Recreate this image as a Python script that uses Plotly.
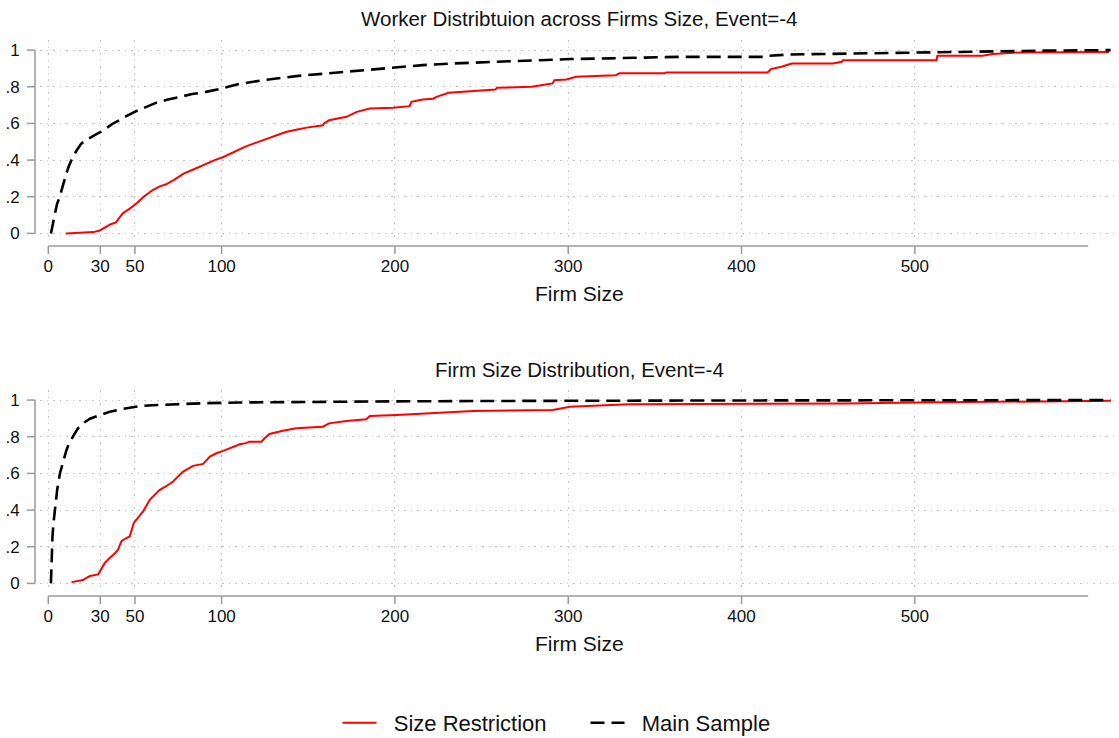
import plotly.graph_objects as go

# ---- data: cumulative shares by firm size ----
worker_main_x = [1.5, 2.5, 3.8, 5, 6.6, 8.5, 10.5, 12, 14, 16.5,
                 19, 22, 25, 28, 31, 33.6, 37, 41, 45, 51,
                 56, 62, 69, 76, 83, 91, 100, 110, 124, 143,
                 162, 181, 201, 216, 233, 258, 281, 301, 324, 347,
                 364, 414, 416, 428, 456, 512, 539, 575, 613]
worker_main_y = [0, 0.05, 0.11, 0.16, 0.20, 0.27, 0.33, 0.37, 0.415, 0.455,
                 0.49, 0.51, 0.528, 0.543, 0.557, 0.575, 0.597, 0.617, 0.64, 0.668,
                 0.69, 0.712, 0.73, 0.745, 0.76, 0.772, 0.79, 0.815, 0.836, 0.858,
                 0.873, 0.89, 0.903, 0.918, 0.927, 0.936, 0.942, 0.951, 0.955, 0.958,
                 0.963, 0.963, 0.969, 0.976, 0.98, 0.99, 0.994, 0.997, 1.0]

worker_restr_x = [10, 20, 26, 29.7, 33, 36, 39, 43, 47, 51,
                  55, 60, 64, 68, 73, 78, 84, 91, 96, 101,
                  104.6, 110.5, 114, 120, 126, 131, 137, 143, 149, 158.5,
                  159, 162, 167, 172, 178, 185.5, 199, 208.5, 209.5, 216,
                  222, 224, 231, 245, 258, 259, 279, 287, 291, 292,
                  299, 304.5, 327.5, 329.5, 355.5, 356.5, 415, 417, 423, 429,
                  452.7, 457.8, 458.5, 512.5, 513, 539, 545, 560.6, 612]
worker_restr_y = [0, 0.002, 0.007, 0.016, 0.035, 0.05, 0.06, 0.11, 0.135, 0.164,
                  0.2, 0.235, 0.255, 0.268, 0.295, 0.326, 0.35, 0.381, 0.4, 0.417,
                  0.432, 0.457, 0.475, 0.495, 0.517, 0.535, 0.553, 0.565, 0.577, 0.59,
                  0.6, 0.617, 0.625, 0.636, 0.663, 0.681, 0.685, 0.694, 0.718, 0.731,
                  0.735, 0.745, 0.767, 0.777, 0.785, 0.794, 0.8, 0.812, 0.818, 0.836,
                  0.84, 0.854, 0.863, 0.873, 0.873, 0.878, 0.878, 0.896, 0.909, 0.927,
                  0.927, 0.936, 0.945, 0.945, 0.969, 0.969, 0.978, 0.987, 0.99]

firm_main_x = [1.5, 1.7, 1.9, 2.4, 3, 3.7, 4.4, 5.1, 6.7, 8.2,
               10.5, 12, 14, 17, 20, 24, 29.7, 35, 41.4, 52.8,
               60, 72, 90, 110.5, 150, 200, 250, 300, 400, 500, 613]
firm_main_y = [0, 0.06, 0.13, 0.257, 0.33, 0.40, 0.45, 0.51, 0.60, 0.656,
               0.728, 0.765, 0.80, 0.845, 0.873, 0.898, 0.918, 0.935, 0.949, 0.967,
               0.972, 0.978, 0.983, 0.987, 0.991, 0.993, 0.995, 0.997, 0.998, 0.999, 1.0]

firm_restr_x = [13.4, 20, 22, 24, 28.7, 30.5, 32.6, 35.5, 38, 40.3,
                42.2, 44.5, 47, 49.3, 52, 54.7, 58.6, 61, 64.3, 68,
                72, 75, 77.8, 83.5, 89.3, 93.2, 97, 100.9, 104.6, 110.5,
                114, 116, 123, 124.8, 127.6, 135.4, 143, 158.5, 162, 172,
                183.5, 185.5, 201, 220, 245, 291, 301, 335, 400, 460, 502, 613]
firm_restr_y = [0.007, 0.018, 0.03, 0.04, 0.049, 0.08, 0.112, 0.14, 0.16, 0.185,
                0.23, 0.245, 0.257, 0.33, 0.36, 0.393, 0.457, 0.48, 0.51, 0.53,
                0.556, 0.585, 0.61, 0.641, 0.652, 0.692, 0.71, 0.723, 0.737, 0.759,
                0.765, 0.773, 0.773, 0.792, 0.815, 0.833, 0.846, 0.855, 0.873, 0.886,
                0.895, 0.913, 0.918, 0.928, 0.94, 0.946, 0.964, 0.977, 0.978, 0.982,
                0.987, 0.996]

x_ticks = [0, 30, 50, 100, 200, 300, 400, 500]
y_ticks = [0, 0.2, 0.4, 0.6, 0.8, 1]
y_tick_text = ["0", ".2", ".4", ".6", ".8", "1"]

panel_titles = ["Worker Distribtuion across Firms Size, Event=-4",
                "Firm Size Distribution, Event=-4"]
x_title = "Firm Size"
series_names = ["Size Restriction", "Main Sample"]

# ---- layout geometry (pixels) ----
W, H = 1119, 738
FONT = "Arial, Liberation Sans, Helvetica, sans-serif"
TXT = "#111111"
AXIS_GRAY = "#9a9a9a"
GRID_GRAY = "#c4c4c4"
NBSP = "\u00a0"

plot_left = 40
# (top px, bottom px, title centre px) for each plotting region
panels = [
    (40, 240, 18),
    (390, 590, 370),
]

def py(p):
    return 1 - p / H

def px(p):
    return p / W

fig = go.Figure()

panel_data = [
    (worker_restr_x, worker_restr_y, worker_main_x, worker_main_y),
    (firm_restr_x, firm_restr_y, firm_main_x, firm_main_y),
]

for i, (rx, ry, mx, my) in enumerate(panel_data):
    xa = "x" if i == 0 else "x2"
    ya = "y" if i == 0 else "y2"
    fig.add_trace(go.Scatter(
        x=rx, y=ry, mode="lines", name=NBSP * 2 + series_names[0], legendgroup="r",
        showlegend=(i == 0), line=dict(color="#ff0000", width=2),
        xaxis=xa, yaxis=ya, hoverinfo="skip"))
    fig.add_trace(go.Scatter(
        x=mx, y=my, mode="lines", name=NBSP * 2 + series_names[1], legendgroup="m",
        showlegend=(i == 0), line=dict(color="#000000", width=2.6, dash="14px,7px"),
        xaxis=xa, yaxis=ya, hoverinfo="skip"))

x_range = [-4.8, 617.8]
y_range = [-0.036, 1.055]

axis_common_x = dict(
    range=x_range, tickmode="array", tickvals=x_ticks,
    ticktext=[str(v) for v in x_ticks],
    showgrid=True, gridcolor=GRID_GRAY, gridwidth=1, griddash="1.5px,5px",
    zeroline=False, showline=False,
    ticks="outside", ticklen=11, tickcolor="rgba(0,0,0,0)",
    tickfont=dict(family=FONT, size=17, color=TXT),
    fixedrange=True,
)
axis_common_y = dict(
    range=y_range, tickmode="array", tickvals=y_ticks, ticktext=y_tick_text,
    showgrid=True, gridcolor=GRID_GRAY, gridwidth=1, griddash="1.5px,5px",
    zeroline=False, showline=False,
    ticks="outside", ticklen=16, tickcolor="rgba(0,0,0,0)",
    tickfont=dict(family=FONT, size=17, color=TXT),
    fixedrange=True,
)

layout = dict(
    width=W, height=H,
    margin=dict(l=0, r=0, t=0, b=0, autoexpand=False),
    paper_bgcolor="white", plot_bgcolor="white",
    font=dict(family=FONT, color=TXT),
    xaxis=dict(axis_common_x, domain=[px(plot_left), 1], anchor="y"),
    yaxis=dict(axis_common_y, domain=[py(panels[0][1]), py(panels[0][0])], anchor="x"),
    xaxis2=dict(axis_common_x, domain=[px(plot_left), 1], anchor="y2"),
    yaxis2=dict(axis_common_y, domain=[py(panels[1][1]), py(panels[1][0])], anchor="x2"),
    legend=dict(orientation="h", x=0.5 + px(26), xanchor="center", y=py(723), yanchor="middle",
                font=dict(family=FONT, size=22, color=TXT), itemwidth=34,
                entrywidth=199, entrywidthmode="pixels",
                bgcolor="rgba(0,0,0,0)"),
    showlegend=True,
)
fig.update_layout(**layout)

# axis lines and tick marks, offset from the plotting regions
shapes = []
annotations = []
for i, (top, bot, title_y) in enumerate(panels):
    xa = "x" if i == 0 else "x2"
    ya = "y" if i == 0 else "y2"
    x_line_y = bot + 6
    # y axis line spanning 0..1
    shapes.append(dict(type="line", xref="paper", yref=ya,
                       x0=px(35), x1=px(35), y0=0, y1=1,
                       line=dict(color=AXIS_GRAY, width=1.5)))
    for v in y_ticks:
        shapes.append(dict(type="line", xref="paper", yref=ya,
                           x0=px(27), x1=px(35), y0=v, y1=v,
                           line=dict(color=AXIS_GRAY, width=1.5)))
    # x axis line spanning 0..600
    shapes.append(dict(type="line", xref=xa, yref="paper",
                       x0=0, x1=600, y0=py(x_line_y), y1=py(x_line_y),
                       line=dict(color=AXIS_GRAY, width=1.5)))
    for v in x_ticks:
        shapes.append(dict(type="line", xref=xa, yref="paper",
                           x0=v, x1=v, y0=py(x_line_y), y1=py(x_line_y + 8),
                           line=dict(color=AXIS_GRAY, width=1.5)))
    # panel title and x axis title
    annotations.append(dict(text=panel_titles[i], xref="paper", yref="paper",
                            x=px((plot_left + W) / 2), y=py(title_y),
                            xanchor="center", yanchor="middle", showarrow=False,
                            font=dict(family=FONT, size=20.5, color=TXT)))
    annotations.append(dict(text=x_title, xref="paper", yref="paper",
                            x=px((plot_left + W) / 2), y=py(bot + 53),
                            xanchor="center", yanchor="middle", showarrow=False,
                            font=dict(family=FONT, size=21, color=TXT)))

fig.update_layout(shapes=shapes, annotations=annotations)

fig.write_html("out.html")
